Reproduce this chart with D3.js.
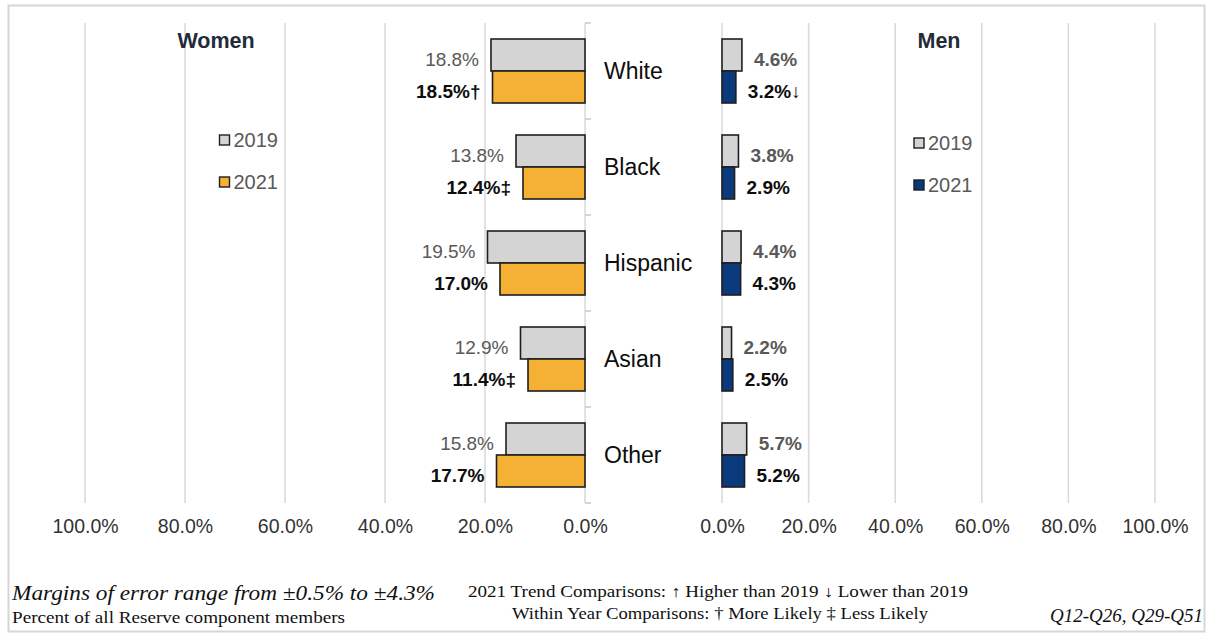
<!DOCTYPE html>
<html>
<head>
<meta charset="utf-8">
<script src="https://cdn.jsdelivr.net/npm/d3@7"></script>
<style>
    body { margin: 0; background: #fff; }
    svg { display: block; }
    .sans { font-family: "Liberation Sans", Arial, sans-serif; }
    .serif { font-family: "Liberation Serif", "Times New Roman", serif; }
</style>
</head>
<body>
<svg width="1209" height="635"></svg>
<script>
// Chart data
const categories = ["White", "Black", "Hispanic", "Asian", "Other"];
const years = ["2019", "2021"];
const women2019 = [18.8, 13.8, 19.5, 12.9, 15.8];
const women2021 = [18.5, 12.4, 17.0, 11.4, 17.7];
const women2021Marks = ["†", "‡", "", "‡", ""];
const men2019 = [4.6, 3.8, 4.4, 2.2, 5.7];
const men2021 = [3.2, 2.9, 4.3, 2.5, 5.2];
const men2021Marks = ["↓", "", "", "", ""];
const axisTicks = [0, 20, 40, 60, 80, 100];

// Colours
const grey = "#d4d4d4";
const orange = "#f5b133";
const navy = "#0b3a7c";
const gridColor = "#d9d9d9";

let svg = d3.select("svg");
let width = +svg.attr("width");
let height = +svg.attr("height");

svg.append("rect")
    .attr("x", 8.5).attr("y", 5.5)
    .attr("width", width - 13).attr("height", height - 9)
    .attr("fill", "#fff")
    .attr("stroke", "#d6d6d6")
    .attr("stroke-width", 2);

// Scales
let xWomen = d3.scaleLinear().domain([0, 100]).range([585, 85]);
let xMen = d3.scaleLinear().domain([0, 100]).range([722, 1155]);
let y = d3.scaleBand().domain(categories).range([23, 503]).paddingInner(1 / 3).paddingOuter(1 / 6);
let yYear = d3.scaleBand().domain(years).range([0, y.bandwidth()]);

// Gridlines
let grid = svg.append("g").attr("class", "grid");
[xWomen, xMen].forEach(x => {
    grid.selectAll(null)
        .data(axisTicks)
        .enter().append("line")
        .attr("x1", d => x(d)).attr("x2", d => x(d))
        .attr("y1", y.range()[0]).attr("y2", y.range()[1])
        .attr("stroke", gridColor)
        .attr("stroke-width", 1.5);
});

// Category axis ticks (between the two panels)
let boundaries = d3.range(categories.length + 1).map(i => y.range()[0] + i * y.step());
svg.append("g")
    .selectAll("line")
    .data(boundaries)
    .enter().append("line")
    .attr("x1", xWomen(0)).attr("x2", xWomen(0) + 6)
    .attr("y1", d => d).attr("y2", d => d)
    .attr("stroke", "#c8c8c8")
    .attr("stroke-width", 1.5);

// Bottom axes
let axisY = 526;
[xWomen, xMen].forEach(x => {
    let g = svg.append("g")
        .attr("class", "sans")
        .attr("transform", `translate(0,${axisY})`)
        .call(d3.axisBottom(x).tickValues(axisTicks).tickSize(0).tickPadding(0).tickFormat(d => d.toFixed(1) + "%"));
    g.select(".domain").remove();
    g.selectAll("text")
        .attr("font-size", 19.5)
        .attr("font-family", "Liberation Sans, Arial, sans-serif")
        .attr("fill", "#333")
        .attr("dy", "0.35em");
});

// Bars
function drawPanel(x, v2019, v2021, color2021, marks, side, bold2019) {
    let rows = categories.map((c, i) => ({ cat: c, values: [v2019[i], v2021[i]], mark: marks[i] }));
    let panel = svg.append("g").attr("class", "panel-" + side);
    rows.forEach(row => {
        let g = panel.append("g").attr("transform", `translate(0,${y(row.cat)})`);
        years.forEach((yr, j) => {
            let v = row.values[j];
            g.append("rect")
                .attr("x", Math.min(x(0), x(v)))
                .attr("y", yYear(yr))
                .attr("width", Math.abs(x(v) - x(0)))
                .attr("height", yYear.bandwidth())
                .attr("fill", j == 0 ? grey : color2021)
                .attr("stroke", "#1e1e1e")
                .attr("stroke-width", 1.6);
            let label = v.toFixed(1) + "%" + (j == 1 ? row.mark : "");
            g.append("text")
                .attr("class", "sans")
                .attr("x", side == "women" ? x(v) - 12 : x(v) + 12)
                .attr("y", yYear(yr) + yYear.bandwidth() / 2 + 4)
                .attr("dy", "0.35em")
                .attr("text-anchor", side == "women" ? "end" : "start")
                .attr("font-size", 19)
                .attr("font-weight", j == 1 || bold2019 ? "bold" : "normal")
                .attr("fill", j == 0 ? "#595959" : "#0d0d0d")
                .text(label);
        });
    });
}

drawPanel(xWomen, women2019, women2021, orange, women2021Marks, "women", false);
drawPanel(xMen, men2019, men2021, navy, men2021Marks, "men", true);

// Category labels
svg.append("g")
    .selectAll("text")
    .data(categories)
    .enter().append("text")
    .attr("class", "sans")
    .attr("x", 604)
    .attr("y", d => y(d) + y.bandwidth() / 2)
    .attr("dy", "0.35em")
    .attr("font-size", 23)
    .attr("fill", "#0d0d0d")
    .text(d => d);

// Panel titles
svg.append("text").attr("class", "sans")
    .attr("x", 216).attr("y", 40).attr("dy", "0.35em")
    .attr("text-anchor", "middle")
    .attr("font-size", 21.5).attr("font-weight", "bold")
    .attr("fill", "#232b38")
    .text("Women");
svg.append("text").attr("class", "sans")
    .attr("x", 939).attr("y", 40).attr("dy", "0.35em")
    .attr("text-anchor", "middle")
    .attr("font-size", 21.5).attr("font-weight", "bold")
    .attr("fill", "#232b38")
    .text("Men");

// Legends
function legend(x0, y0, color2021) {
    let lg = svg.append("g").attr("transform", `translate(${x0},${y0})`);
    years.forEach((yr, i) => {
        lg.append("rect")
            .attr("x", 0).attr("y", i * 42 - 5)
            .attr("width", 10).attr("height", 10)
            .attr("fill", i == 0 ? grey : color2021)
            .attr("stroke", "#1e1e1e")
            .attr("stroke-width", 1.4);
        lg.append("text").attr("class", "sans")
            .attr("x", 14).attr("y", i * 42).attr("dy", "0.35em")
            .attr("font-size", 20)
            .attr("fill", "#595959")
            .text(yr);
    });
}
legend(219.5, 140, orange);
legend(914, 143, navy);

// Footnotes
let foot = svg.append("g").attr("class", "serif").attr("fill", "#111");
foot.append("text")
    .attr("x", 12).attr("y", 600)
    .attr("font-size", 21).attr("font-style", "italic")
    .attr("textLength", 423).attr("lengthAdjust", "spacingAndGlyphs")
    .text("Margins of error range from ±0.5% to ±4.3%");
foot.append("text")
    .attr("x", 12).attr("y", 623)
    .attr("font-size", 16)
    .attr("textLength", 333).attr("lengthAdjust", "spacingAndGlyphs")
    .text("Percent of all  Reserve component members");
foot.append("text")
    .attr("x", 468).attr("y", 597)
    .attr("font-size", 16)
    .attr("textLength", 500).attr("lengthAdjust", "spacingAndGlyphs")
    .text("2021 Trend Comparisons:   ↑ Higher  than 2019  ↓ Lower than 2019");
foot.append("text")
    .attr("x", 512).attr("y", 619)
    .attr("font-size", 16)
    .attr("textLength", 416).attr("lengthAdjust", "spacingAndGlyphs")
    .text("Within  Year Comparisons:  † More Likely   ‡ Less Likely");
foot.append("text")
    .attr("x", 1203).attr("y", 622)
    .attr("text-anchor", "end")
    .attr("font-size", 19).attr("font-style", "italic")
    .text("Q12-Q26, Q29-Q51");
</script>
</body>
</html>
